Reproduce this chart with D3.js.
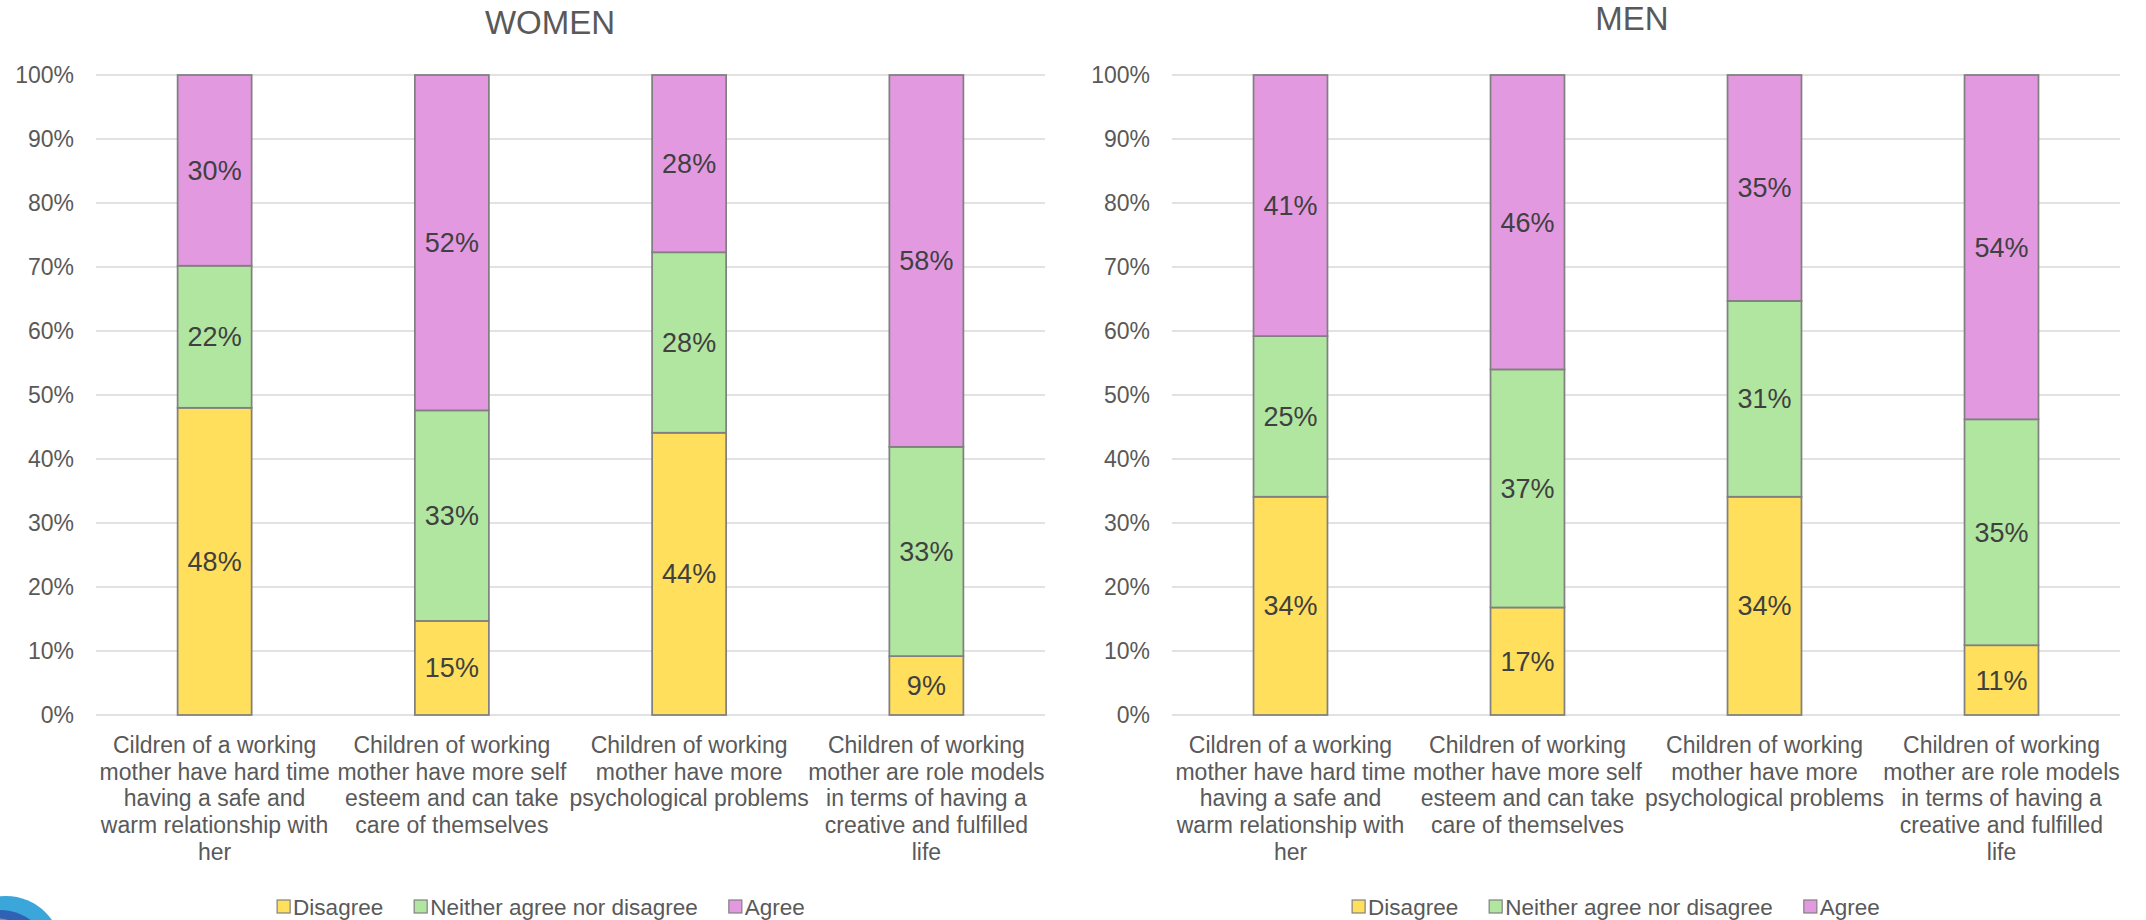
<!DOCTYPE html>
<html>
<head>
<meta charset="utf-8">
<script src="https://cdn.jsdelivr.net/npm/d3@7"></script>
<style>
  html, body { margin: 0; padding: 0; background: #ffffff; }
  svg { display: block; font-family: "Liberation Sans", Arial, sans-serif; }
</style>
</head>
<body>
<svg id="chart" width="2146" height="920"></svg>
<script>
// ---------- DATA ----------
const categories = [
  "Cildren of a working\nmother have hard time\nhaving a safe and\nwarm relationship with\nher",
  "Children of working\nmother have more self\nesteem and can take\ncare of themselves",
  "Children of working\nmother have more\npsychological problems",
  "Children of working\nmother are role models\nin terms of having a\ncreative and fulfilled\nlife"
];
const seriesNames = ["Disagree", "Neither agree nor disagree", "Agree"];
const seriesColors = ["#FFDF5B", "#B1E6A1", "#E399E0"];

const womenDisagree = [48.0, 14.7, 44.1, 9.2];
const womenNeither  = [22.2, 32.9, 28.2, 32.7];
const womenAgree    = [29.8, 52.4, 27.7, 58.1];

const menDisagree = [34.1, 16.8, 34.1, 10.9];
const menNeither  = [25.1, 37.2, 30.6, 35.3];
const menAgree    = [40.8, 46.0, 35.3, 53.8];

const yTicks = [0, 10, 20, 30, 40, 50, 60, 70, 80, 90, 100];

// ---------- DRAW ----------
const svg = d3.select("#chart");

function buildRows(dis, nei, agr) {
  return categories.map((c, i) => ({
    cat: c,
    [seriesNames[0]]: dis[i],
    [seriesNames[1]]: nei[i],
    [seriesNames[2]]: agr[i]
  }));
}

function drawPanel(cfg) {
  const g = svg.append("g");
  const y = d3.scaleLinear().domain([0, 100]).range([cfg.bottom, cfg.top]);
  const x = d3.scaleBand().domain(categories)
    .range([cfg.left, cfg.right]).paddingInner(0.688).paddingOuter(0.344);

  // title
  g.append("text")
    .attr("x", cfg.titleX).attr("y", cfg.titleY)
    .attr("text-anchor", "middle")
    .attr("font-size", 33).attr("fill", "#595959")
    .text(cfg.title);

  // gridlines
  g.append("g").selectAll("line").data(yTicks).join("line")
    .attr("x1", cfg.left).attr("x2", cfg.right)
    .attr("y1", d => y(d)).attr("y2", d => y(d))
    .attr("stroke", "#D9D9D9").attr("stroke-width", 1.5);

  // y axis labels
  const yAxis = d3.axisLeft(y).tickValues(yTicks).tickFormat(d => d + "%").tickSize(0).tickPadding(22);
  const ya = g.append("g").attr("transform", `translate(${cfg.left},0)`).call(yAxis);
  ya.select(".domain").remove();
  ya.selectAll("text").attr("font-size", 23).attr("fill", "#595959")
    .attr("font-family", "Liberation Sans, Arial, sans-serif");

  // stacked bars
  const rows = buildRows(cfg.dis, cfg.nei, cfg.agr);
  const stacked = d3.stack().keys(seriesNames)(rows);

  stacked.forEach((layer, li) => {
    const lg = g.append("g");
    lg.selectAll("rect").data(layer).join("rect")
      .attr("x", d => x(d.data.cat))
      .attr("width", x.bandwidth())
      .attr("y", d => y(d[1]))
      .attr("height", d => y(d[0]) - y(d[1]))
      .attr("fill", seriesColors[li])
      .attr("stroke", "#808080").attr("stroke-width", 1.75);
    lg.selectAll("text").data(layer).join("text")
      .attr("x", d => x(d.data.cat) + x.bandwidth() / 2)
      .attr("y", d => (y(d[0]) + y(d[1])) / 2)
      .attr("dy", "0.35em")
      .attr("text-anchor", "middle")
      .attr("font-size", 27).attr("fill", "#404040")
      .text(d => Math.round(d[1] - d[0]) + "%");
  });

  // category labels
  const cg = g.append("g");
  categories.forEach(c => {
    const lines = c.split("\n");
    const t = cg.append("text")
      .attr("x", x(c) + x.bandwidth() / 2)
      .attr("y", cfg.catY)
      .attr("text-anchor", "middle")
      .attr("font-size", 23).attr("fill", "#595959");
    lines.forEach((ln, i) => {
      t.append("tspan").attr("x", x(c) + x.bandwidth() / 2)
        .attr("dy", i === 0 ? 0 : 26.7).text(ln);
    });
  });

  // legend
  const leg = g.append("g");
  const items = [];
  seriesNames.forEach((name, i) => {
    const it = leg.append("g");
    it.append("rect").attr("x", 0).attr("y", -7).attr("width", 13).attr("height", 13)
      .attr("fill", seriesColors[i]).attr("stroke", "#808080").attr("stroke-width", 1.2);
    const tx = it.append("text").attr("x", 16).attr("y", 0).attr("dy", "0.35em")
      .attr("font-size", 22.5).attr("fill", "#595959").text(name);
    const w = 16 + tx.node().getComputedTextLength();
    items.push({ it, w });
  });
  const gap = 31;
  const total = d3.sum(items, d => d.w) + gap * (items.length - 1);
  let start = cfg.legendCX - total / 2;
  items.forEach(d => {
    d.it.attr("transform", `translate(${start},${cfg.legendY})`);
    start += d.w + gap;
  });
}

drawPanel({
  title: "WOMEN", titleX: 550, titleY: 34,
  left: 96, right: 1045, top: 75, bottom: 715,
  catY: 753, legendCX: 541, legendY: 907,
  dis: womenDisagree, nei: womenNeither, agr: womenAgree
});

drawPanel({
  title: "MEN", titleX: 1632, titleY: 30,
  left: 1172, right: 2120, top: 75, bottom: 715,
  catY: 753, legendCX: 1616, legendY: 907,
  dis: menDisagree, nei: menNeither, agr: menAgree
});

// decorative logo fragment bottom-left
const logo = svg.append("g");
logo.append("circle").attr("cx", 6).attr("cy", 952).attr("r", 56).attr("fill", "#3BA6D9");
logo.append("circle").attr("cx", 0).attr("cy", 962).attr("r", 52).attr("fill", "#2F62B4");
logo.append("circle").attr("cx", -6).attr("cy", 968).attr("r", 50).attr("fill", "#8A8F99");
</script>
</body>
</html>
